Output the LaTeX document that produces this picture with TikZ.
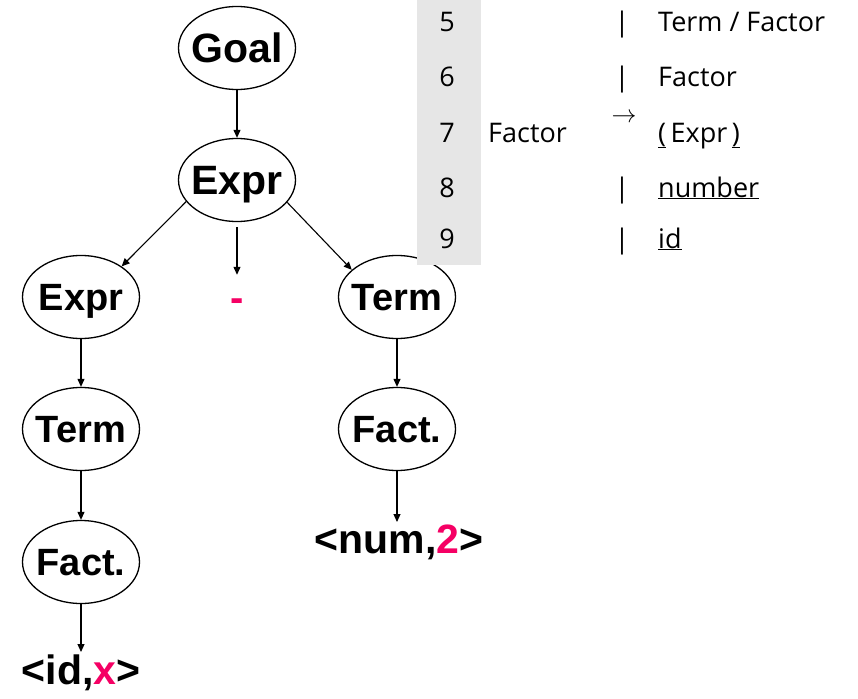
\documentclass[tikz,border=0pt]{standalone}
\usepackage{fontspec}
\setmainfont{Liberation Sans}
\newfontfamily\tablefont{Open Sans}
\usetikzlibrary{arrows.meta,shapes.geometric}
\definecolor{hot}{RGB}{245,0,100}
\definecolor{colgray}{RGB}{230,230,230}
\tikzset{
  ell/.style={ellipse, draw, line width=1.3pt, minimum width=117pt, minimum height=83pt, inner sep=0pt},
  lbl/.style={inner sep=0pt, text height=27pt, text depth=0pt, font=\fontsize{38}{40}\selectfont\bfseries},
  lblbig/.style={lbl, text height=29pt, font=\fontsize{41}{43}\selectfont\bfseries},
  leaf/.style={inner sep=3pt, font=\fontsize{41}{43}\selectfont\bfseries},
  edge/.style={line width=1.1pt, -{Triangle[length=8pt,width=7pt]}},
  tabtxt/.style={anchor=base west, inner sep=0pt, font=\tablefont\fontsize{27}{29}\selectfont},
  tabnum/.style={anchor=base, inner sep=0pt, font=\tablefont\fontsize{27}{29}\selectfont}
}
\begin{document}
\begin{tikzpicture}[x=1pt,y=-1pt]
\useasboundingbox (0,0) rectangle (858,698);
% tree
\node[ell, label={[lblbig]center:Goal}] (goal) at (237,48) {};
\node[ell, label={[lblbig]center:Expr}] (expr) at (237,180) {};
\node[ell, label={[lbl]center:Expr}] (exprl) at (81,297) {};
\node[inner sep=0pt, minimum height=60pt, text=hot, font=\fontsize{40}{42}\selectfont\bfseries] (minus) at (237,305) {-};
\node[ell, label={[lbl]center:Term}] (termr) at (397,297) {};
\node[ell, label={[lbl]center:Term}] (terml) at (81,429) {};
\node[ell, label={[lbl]center:Fact.}] (factr) at (397,429) {};
\node[ell, label={[lbl]center:Fact.}] (factl) at (81,562) {};
\node[leaf, anchor=north] (idx) at (81,652) {<id,\textcolor{hot}{x}>};
\node[leaf, anchor=north] (num) at (399,522) {<num,\textcolor{hot}{2}>};
\draw[edge] (goal) -- (expr);
\draw[edge, shorten <=5pt] (expr) -- (minus);
\draw[edge] (expr.203) -- (exprl.37);
\draw[edge] (expr.336) -- (termr.149);
\draw[edge] (exprl) -- (terml);
\draw[edge] (terml) -- (factl);
\draw[edge] (factl) -- (idx);
\draw[edge] (termr) -- (factr);
\draw[edge] (factr.south) -- (factr.south |- num.north);
% grammar table (overlaid)
\fill[white] (417,0) rectangle (858,265);
\fill[colgray] (417,0) rectangle (481,265);
\node[tabnum] (n5) at (447,32) {5};
\node[tabnum] (n6) at (447,87) {6};
\node[tabnum] (n7) at (447,142) {7};
\node[tabnum] (n8) at (447,197) {8};
\node[tabnum] (n9) at (447,248) {9};
\node[tabtxt] (lhs7) at (488,142) {Factor};
\node[tabnum] (b5) at (622,32) {|};
\node[tabnum] (b6) at (622,87) {|};
\node[tabnum] (b8) at (622,197) {|};
\node[tabnum] (b9) at (622,248) {|};
\node[anchor=center, inner sep=0pt, font=\fontsize{27}{29}\selectfont] (arr7) at (624,118) {$\rightarrow$};
\node[tabtxt] (r5) at (658,32) {Term / Factor};
\node[tabtxt] (r6) at (658,87) {Factor};
\node[tabtxt] (r7) at (658,142) {\underline{(}\,Expr\,\underline{)}};
\node[tabtxt] (r8) at (658,197) {\underline{number}};
\node[tabtxt] (r9) at (658,248) {\underline{id}};
\end{tikzpicture}
\end{document}
